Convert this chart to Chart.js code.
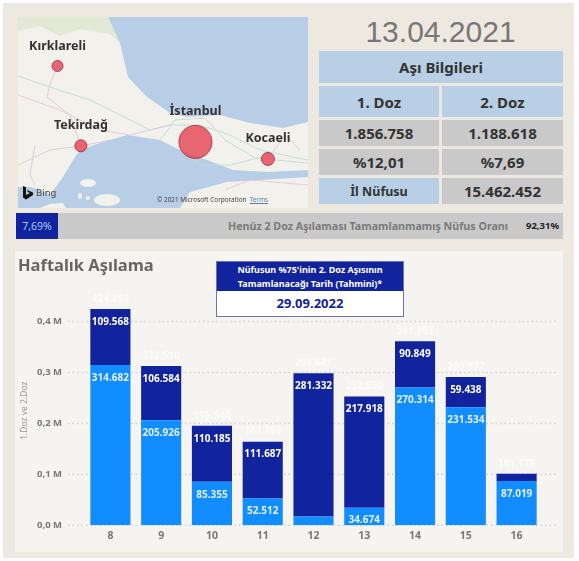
<!DOCTYPE html>
<html lang="tr">
<head>
<meta charset="utf-8">
<title>Haftalık Aşılama</title>
<script src="https://cdn.jsdelivr.net/npm/chart.js@4"></script>
<style>
    html, body { margin: 0; padding: 0; background: #fff; }
    body { width: 579px; height: 561px; position: relative; overflow: hidden; font-family: "Noto Sans", sans-serif; }
    .abs { position: absolute; box-sizing: border-box; }
    .cell { display: flex; align-items: center; justify-content: center; font-weight: 700; color: #333; font-size: 15px; }
    .mavi { background: #b9cfe6; }
    .gri { background: #c9c9c9; }
</style>
</head>
<body>
<div class="abs" style="left:3px;top:3px;width:571px;height:555px;background:#eee9e0"></div>

<!-- map -->
<svg class="abs" style="left:18px;top:17px;filter:blur(.5px)" width="290" height="191" viewBox="18 17 290 191">
    <rect x="18" y="17" width="290" height="191" fill="#f3f1ec"/>
    <polygon fill="#e3e8d4" points="18,17 108,17 120,43 110,34 80,29 60,36 40,26 18,31"/>
    <polygon fill="#b8cee6" points="108,17 120,43 128,77 147,97 170,113 187,117 220,115 250,123 283,128 308,122 308,17"/>
    <polygon fill="#b8cee6" points="80,150 100,143 127,135 160,140 180,150 207,160 233,170 267,172 308,170 308,208 18,208 18,187 30,187 40,190 50,195 63,177 73,160"/>
    <polygon fill="#f3f1ec" points="180,208 190,192 227,182 308,177 308,208"/>
    <polygon fill="#f3f1ec" points="40,208 50,204 63,203 66,208"/>
    <ellipse cx="88" cy="183" rx="8" ry="4" fill="#f3f1ec"/>
    <ellipse cx="107" cy="200" rx="13" ry="6" fill="#f3f1ec"/>
    <ellipse cx="80" cy="196" rx="2" ry="3" fill="#f3f1ec"/>
    <ellipse cx="88" cy="198" rx="2" ry="2" fill="#f3f1ec"/>
    <g fill="none" stroke="#bfe0d2" stroke-width="1">
        <polyline points="18,76 50,87 90,100 120,115 150,130 170,125 200,125 230,135 260,150 308,160"/>
        <polyline points="160,140 175,120 205,118 225,140 255,158 308,163"/>
        <polyline points="180,150 200,165 230,165 270,155"/>
    </g>
    <g fill="none" stroke="#e6c9dc" stroke-width="1">
        <polyline points="57,66 50,85 47,97 70,115 81,146"/>
        <polyline points="18,95 60,110 100,130 130,135 170,125"/>
        <polyline points="18,165 50,150 81,146 110,140"/>
        <polyline points="225,190 250,180 308,185"/>
        <polyline points="268,159 285,135 300,150"/>
        <polyline points="35,145 30,175 35,185"/>
    </g>
</svg>
<canvas id="mapChart" class="abs" width="290" height="191" style="left:18px;top:17px"></canvas>
<svg class="abs" style="left:22px;top:186px" width="12" height="14" viewBox="0 0 12 14">
    <path d="M1 0 L4 1.2 V9 L8 7 L5.8 6 L5 4 L11 6.5 V9 L4 13.5 L1 11.5 Z" fill="#111"/>
</svg>
<div class="abs" style="left:36px;top:186px;font-size:9.5px;line-height:13px;color:#444">Bing</div>
<div class="abs" style="left:157px;top:195px;font-size:6.4px;line-height:9px;color:#444;white-space:nowrap">© 2021 Microsoft Corporation&nbsp; <span style="color:#5b7fa8;text-decoration:underline">Terms</span></div>

<!-- date and table -->
<div class="abs" style="left:319px;top:14px;width:243px;text-align:center;font-family:'Liberation Sans',sans-serif;font-size:30px;line-height:36px;color:#777">13.04.2021</div>
<div class="abs cell mavi" style="left:319px;top:51px;width:244px;height:32px">Aşı Bilgileri</div>
<div class="abs cell mavi" style="left:319px;top:86px;width:120px;height:31px">1. Doz</div>
<div class="abs cell mavi" style="left:442px;top:86px;width:121px;height:31px">2. Doz</div>
<div class="abs cell gri" style="left:319px;top:120px;width:120px;height:26px">1.856.758</div>
<div class="abs cell gri" style="left:442px;top:120px;width:121px;height:26px">1.188.618</div>
<div class="abs cell gri" style="left:319px;top:149px;width:120px;height:26px">%12,01</div>
<div class="abs cell gri" style="left:442px;top:149px;width:121px;height:26px">%7,69</div>
<div class="abs cell mavi" style="left:319px;top:178px;width:120px;height:26px;font-size:12.5px">İl Nüfusu</div>
<div class="abs cell gri" style="left:442px;top:178px;width:121px;height:26px">15.462.452</div>

<!-- progress strip -->
<div class="abs gri" style="left:16px;top:213px;width:547px;height:26px"></div>
<div class="abs" style="left:16px;top:213px;width:42px;height:26px;background:#12239e;color:#a9c8f5;font-size:10.5px;line-height:26px;text-align:center">7,69%</div>
<div class="abs" style="left:150px;top:213px;width:358px;text-align:right;font-size:10.7px;line-height:26px;font-weight:700;color:#7a7a7a;white-space:nowrap">Henüz 2 Doz Aşılaması Tamamlanmamış Nüfus Oranı</div>
<div class="abs" style="left:512px;top:213px;width:47px;text-align:right;font-size:9.5px;line-height:26px;font-weight:700;color:#222">92,31%</div>

<!-- weekly chart panel -->
<div class="abs" style="left:15px;top:251px;width:548px;height:301px;background:#f5f4f0"></div>
<canvas id="barChart" class="abs" width="548" height="303" style="left:15px;top:251px"></canvas>
<div class="abs" style="left:18px;top:253px;font-size:16.5px;line-height:24px;font-weight:700;color:#666">Haftalık Aşılama</div>
<div class="abs" style="left:216px;top:261px;width:188px;height:56px;background:#fff;border:1px solid #6f74a8">
    <div style="background:#12239e;color:#fff;height:29px;font-size:9px;line-height:14px;font-weight:700;text-align:center;padding-top:1px;box-sizing:border-box">Nüfusun %75'inin 2. Doz Aşısının<br>Tamamlanacağı Tarih (Tahmini)*</div>
    <div style="color:#12239e;font-size:13px;line-height:25px;font-weight:700;text-align:center">29.09.2022</div>
</div>

<script>
// Weekly vaccinations
const haftalar = ['8', '9', '10', '11', '12', '13', '14', '15', '16'];
const doz1 = [314682, 205926, 85355, 52512, 17309, 34674, 270314, 231534, 87019];
const doz2 = [109568, 106584, 110185, 111687, 281332, 217918, 90849, 59438, 14160];
const toplam = [424250, 312510, 195540, 164199, 298641, 252592, 361163, 290972, 101179];
const yTicks = [0, 100000, 200000, 300000, 400000];

// Map bubbles, lon/lat
const sehirler = ['Kırklareli', 'Tekirdağ', 'İstanbul', 'Kocaeli'];
const boylam = [27.22, 27.52, 28.99, 29.92];
const enlem = [41.73, 40.98, 41.016, 40.856];
const yaricap = [5.5, 6, 16.5, 6.5];

const sayi = v => v.toLocaleString('de-DE');
const fontAd = '"Noto Sans", sans-serif';

// dotted lines reach past the first and last category, so they are drawn here
const noktaliGrid = {
    id: 'noktaliGrid',
    beforeDatasetsDraw(chart) {
        const { ctx, chartArea, scales } = chart;
        ctx.save();
        ctx.strokeStyle = '#cfcfcb';
        ctx.lineWidth = 1.5;
        ctx.setLineDash([1.5, 3]);
        yTicks.forEach(t => {
            const y = scales.y.getPixelForValue(t);
            ctx.beginPath();
            ctx.moveTo(chartArea.left - 17, y);
            ctx.lineTo(chartArea.right + 16, y);
            ctx.stroke();
        });
        ctx.restore();
    }
};

const barEtiketleri = {
    id: 'barEtiketleri',
    afterDatasetsDraw(chart) {
        const { ctx } = chart;
        ctx.save();
        ctx.textAlign = 'center';
        ctx.textBaseline = 'middle';
        ctx.font = '700 10px ' + fontAd;
        chart.data.datasets.forEach((ds, d) => {
            chart.getDatasetMeta(d).data.forEach((bar, i) => {
                // skip segments too thin for a label
                if (bar.base - bar.y < 12) return;
                ctx.fillStyle = d === 0 ? '#e3f1ff' : '#ffffff';
                ctx.fillText(sayi(ds.data[i]), bar.x, bar.y + 13);
            });
        });
        // totals, nearly invisible on the panel in the original
        ctx.fillStyle = 'rgba(255,255,255,0.6)';
        chart.getDatasetMeta(1).data.forEach((bar, i) => {
            ctx.fillText(sayi(toplam[i]), bar.x, bar.y - 10);
        });
        ctx.restore();
    }
};

new Chart(document.getElementById('barChart').getContext('2d'), {
    type: 'bar',
    data: {
        labels: haftalar,
        datasets: [
            { label: '1. Doz', data: doz1, backgroundColor: '#118dff' },
            { label: '2. Doz', data: doz2, backgroundColor: '#12239e' }
        ]
    },
    options: {
        responsive: false,
        animation: false,
        layout: { autoPadding: false, padding: { top: 45, right: 21, bottom: 0, left: 0 } },
        plugins: { legend: { display: false }, tooltip: { enabled: false } },
        datasets: { bar: { categoryPercentage: 1, barPercentage: 0.79 } },
        scales: {
            x: {
                stacked: true,
                grid: { display: false, drawTicks: false },
                border: { display: false },
                ticks: { color: '#777', padding: 4, font: { family: fontAd, size: 10.5, weight: '700' } },
                afterFit(scale) { scale.height = 25; }
            },
            y: {
                stacked: true,
                min: 0,
                max: 450000,
                grid: { display: false, drawTicks: false },
                border: { display: false },
                title: { display: true, text: '1.Doz ve 2.Doz', color: '#999', padding: { top: 4, bottom: 0 }, font: { family: fontAd, size: 8.5 } },
                ticks: {
                    autoSkip: false,
                    padding: 23,
                    color: '#777',
                    font: { family: fontAd, size: 9.5, weight: '700' },
                    callback: v => (v / 1000000).toFixed(1).replace('.', ',') + ' M'
                },
                // the axis runs to 450000 for headroom, labels stop at 0,4 M
                afterBuildTicks(scale) { scale.ticks = yTicks.map(value => ({ value })); },
                afterFit(scale) { scale.width = 70; }
            }
        }
    },
    plugins: [noktaliGrid, barEtiketleri]
});

const sehirEtiketleri = {
    id: 'sehirEtiketleri',
    afterDatasetsDraw(chart) {
        const { ctx } = chart;
        ctx.save();
        ctx.textAlign = 'center';
        ctx.textBaseline = 'middle';
        ctx.fillStyle = '#333';
        ctx.font = '700 12.5px ' + fontAd;
        chart.getDatasetMeta(0).data.forEach((pt, i) => {
            ctx.fillText(sehirler[i], pt.x, pt.y - yaricap[i] - 14);
        });
        ctx.restore();
    }
};

new Chart(document.getElementById('mapChart').getContext('2d'), {
    type: 'bubble',
    data: {
        datasets: [{
            data: sehirler.map((s, i) => ({ x: boylam[i], y: enlem[i], r: yaricap[i] })),
            backgroundColor: 'rgba(228,78,92,0.85)',
            borderColor: '#b23a4a',
            borderWidth: 1
        }]
    },
    options: {
        responsive: false,
        animation: false,
        clip: false,
        layout: { autoPadding: false },
        plugins: { legend: { display: false }, tooltip: { enabled: false } },
        scales: {
            x: { type: 'linear', display: false, min: 26.713, max: 30.434 },
            y: { type: 'linear', display: false, min: 40.395, max: 42.19 }
        }
    },
    plugins: [sehirEtiketleri]
});
</script>
</body>
</html>
